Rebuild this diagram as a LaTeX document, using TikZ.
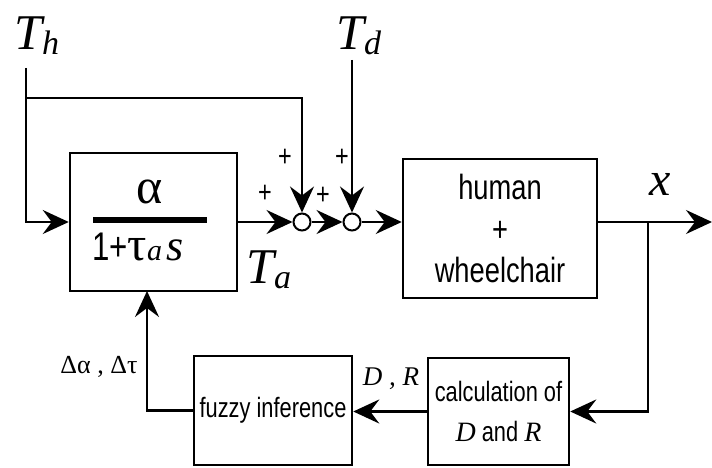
\documentclass[tikz,border=0pt]{standalone}
\usepackage{fontspec}
\setmainfont{Liberation Sans}[FakeStretch=0.78]
\newfontfamily\serifrm{Liberation Serif}
\usetikzlibrary{arrows.meta}
\newcommand{\fs}[1]{\fontsize{#1}{#1}\selectfont}
\newcommand{\lsub}[1]{\raisebox{-5pt}{\fs{34}\serifrm\itshape #1}}
\newcommand{\mT}{{\serifrm\itshape T}}
\begin{document}
\begin{tikzpicture}[x=1pt,y=-1pt,
  blk/.style={draw, line width=2.5pt, inner sep=0pt, align=center},
  sumc/.style={draw, circle, line width=2pt, minimum size=17pt, inner sep=0pt, fill=white},
  ln/.style={line width=2.5pt},
  arr/.style={ln, -{Stealth[length=26pt,width=24pt,inset=9pt]}},
  lab/.style={inner sep=0pt, anchor=base west},
  pl/.style={inner sep=0pt, font=\fs{30}}]
\useasboundingbox (0,0) rectangle (712,468);
% blocks
\node[blk, minimum width=167pt, minimum height=138pt] (G) at (153.5,222) {};
\node[blk, minimum width=194pt, minimum height=139pt, font={\fontsize{35}{41.5}\selectfont}] (H) at (500,228.5) {human\\+\\wheelchair};
\node[blk, minimum width=158pt, minimum height=109pt, font=\fs{28}] (F) at (273,410.5) {fuzzy inference};
\node[blk, minimum width=141pt, minimum height=107pt, font={\fontsize{28}{40}\selectfont}] (C) at (498.5,411.5) {calculation of\\{\serifrm\itshape D} and {\serifrm\itshape R}};
% fraction
\node[inner sep=0pt, anchor=base] (num) at (150,203) {\fs{50}\serifrm α};
\draw[line width=6pt] (93,220) -- (207,220);
\node[lab] (den) at (92,260) {\fs{40}1+{\fs{48}\serifrm τ}{\fs{30}\serifrm\itshape a}\hspace{4pt}{\fs{44}\serifrm\itshape s}};
% sums
\node[sumc] (s1) at (302,222) {};
\node[sumc] (s2) at (352,222) {};
% coordinates
\coordinate (th0) at (26,68);
\coordinate (thj) at (26,98);
\coordinate (td0) at (352,60);
\coordinate (br) at (648,222);
\coordinate (out) at (712,222);
\coordinate (gin) at (147,291);
% labels
\node[lab] (lth) at (14,50) {\fs{50}\mT\lsub{h}};
\node[lab] (ltd) at (336,50) {\fs{50}\mT\lsub{d}};
\node[lab] (lta) at (246,283) {\fs{50}\mT\lsub{a}};
\node[lab] (lx) at (649,195) {\fs{48}\serifrm\itshape x};
\node[inner sep=0pt, anchor=base] (lda) at (99,373) {\fs{26}\serifrm Δα , Δτ};
\node[inner sep=0pt, anchor=base] (ldr) at (391,385) {\fs{27}\serifrm\itshape D , R};
\node[pl] (p1) at (285,158) {+};
\node[pl] (p2) at (265,194) {+};
\node[pl] (p3) at (342,158) {+};
\node[pl] (p4) at (323,196) {+};
% connectors
\draw[arr] (th0) |- (G.west);
\draw[arr] (thj) -| (s1.north);
\draw[arr] (td0) -- (s2.north);
\draw[arr] (G.east) -- (s1.west);
\draw[arr] (s1.east) -- (s2.west);
\draw[arr] (s2.east) -- (s2 -| H.west);
\draw[arr] (s2 -| H.east) -- (out);
\draw[arr] (br) |- (C.east);
\draw[arr] (C.west) -- (C.west -| F.east);
\draw[arr] (F.west) -| (gin);
\end{tikzpicture}
\end{document}
